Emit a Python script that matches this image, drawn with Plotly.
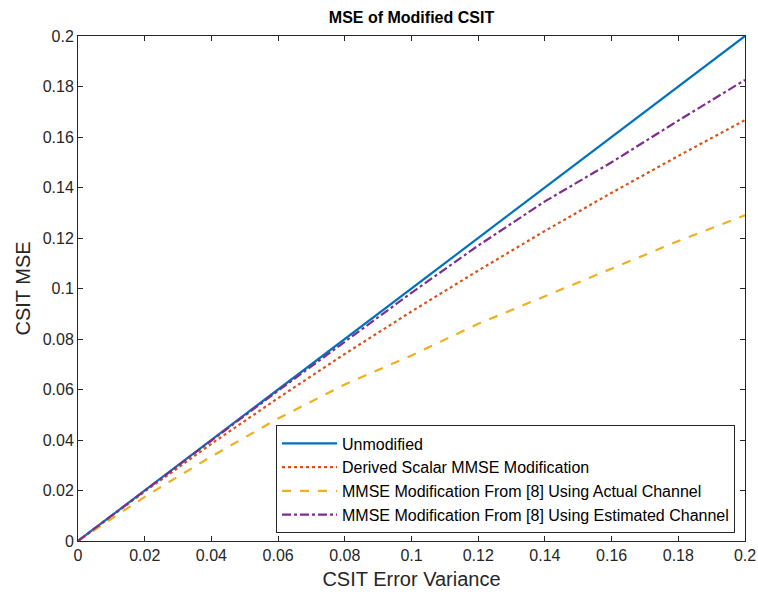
import plotly.graph_objects as go

x_vals = [0.0, 0.02, 0.04, 0.06, 0.08, 0.10, 0.12, 0.14, 0.16, 0.18, 0.20]
unmodified = [0.0, 0.02, 0.04, 0.06, 0.08, 0.10, 0.12, 0.14, 0.16, 0.18, 0.20]
derived_scalar = [0.0, 0.0196, 0.0385, 0.0566, 0.0741, 0.0909, 0.1071, 0.1228, 0.1379, 0.1525, 0.1667]
actual_channel = [0.0, 0.0175, 0.0335, 0.0485, 0.0620, 0.0735, 0.0860, 0.0970, 0.1080, 0.1188, 0.1290]
estimated_channel = [0.0, 0.0200, 0.0398, 0.0595, 0.0790, 0.0983, 0.1170, 0.1345, 0.1500, 0.1665, 0.1826]

tick_vals = [0, 0.02, 0.04, 0.06, 0.08, 0.1, 0.12, 0.14, 0.16, 0.18, 0.2]
tick_text = ["0", "0.02", "0.04", "0.06", "0.08", "0.1", "0.12", "0.14", "0.16", "0.18", "0.2"]

names = ["Unmodified", "Derived Scalar MMSE Modification",
         "MMSE Modification From [8] Using Actual Channel",
         "MMSE Modification From [8] Using Estimated Channel"]
colors = ["#0072BD", "#D95319", "#EDB120", "#7E2F8E"]
dashes = ["solid", "dot", "dash", "dashdot"]
series = [unmodified, derived_scalar, actual_channel, estimated_channel]

fig = go.Figure()
for name, ys, c, d in zip(names, series, colors, dashes):
    fig.add_trace(go.Scatter(x=x_vals, y=ys, mode="lines", name=name,
                             line=dict(color=c, width=2.2, dash=d)))

font_family = "Liberation Sans, Arial, sans-serif"
axis_common = dict(
    showgrid=False, zeroline=False, showline=True, linecolor="#262626", linewidth=1,
    mirror="ticks", ticks="inside", ticklen=5, tickcolor="#262626",
    tickfont=dict(family=font_family, size=16, color="#262626"),
    tickvals=tick_vals, ticktext=tick_text, range=[0, 0.2], automargin=False,
)

fig.update_layout(
    width=758, height=598,
    margin=dict(l=78, r=13, t=36, b=57),
    paper_bgcolor="white", plot_bgcolor="white",
    title=dict(text="<b>MSE of Modified CSIT</b>", x=(78 + 745) / 2 / 758, xanchor="center",
               y=1 - 17 / 598, yanchor="middle",
               font=dict(family=font_family, size=16, color="black")),
    xaxis=dict(axis_common, title=dict(text="CSIT Error Variance",
               font=dict(family=font_family, size=20, color="#262626"), standoff=8)),
    yaxis=dict(axis_common, title=dict(text="CSIT MSE",
               font=dict(family=font_family, size=20, color="#262626"), standoff=6)),
    legend=dict(x=0.985, y=0.015, xanchor="right", yanchor="bottom",
                bgcolor="white", bordercolor="#262626", borderwidth=1,
                font=dict(family=font_family, size=16, color="black"),
                tracegroupgap=0, itemwidth=55),
    showlegend=True,
)

fig.write_html("out.html")
